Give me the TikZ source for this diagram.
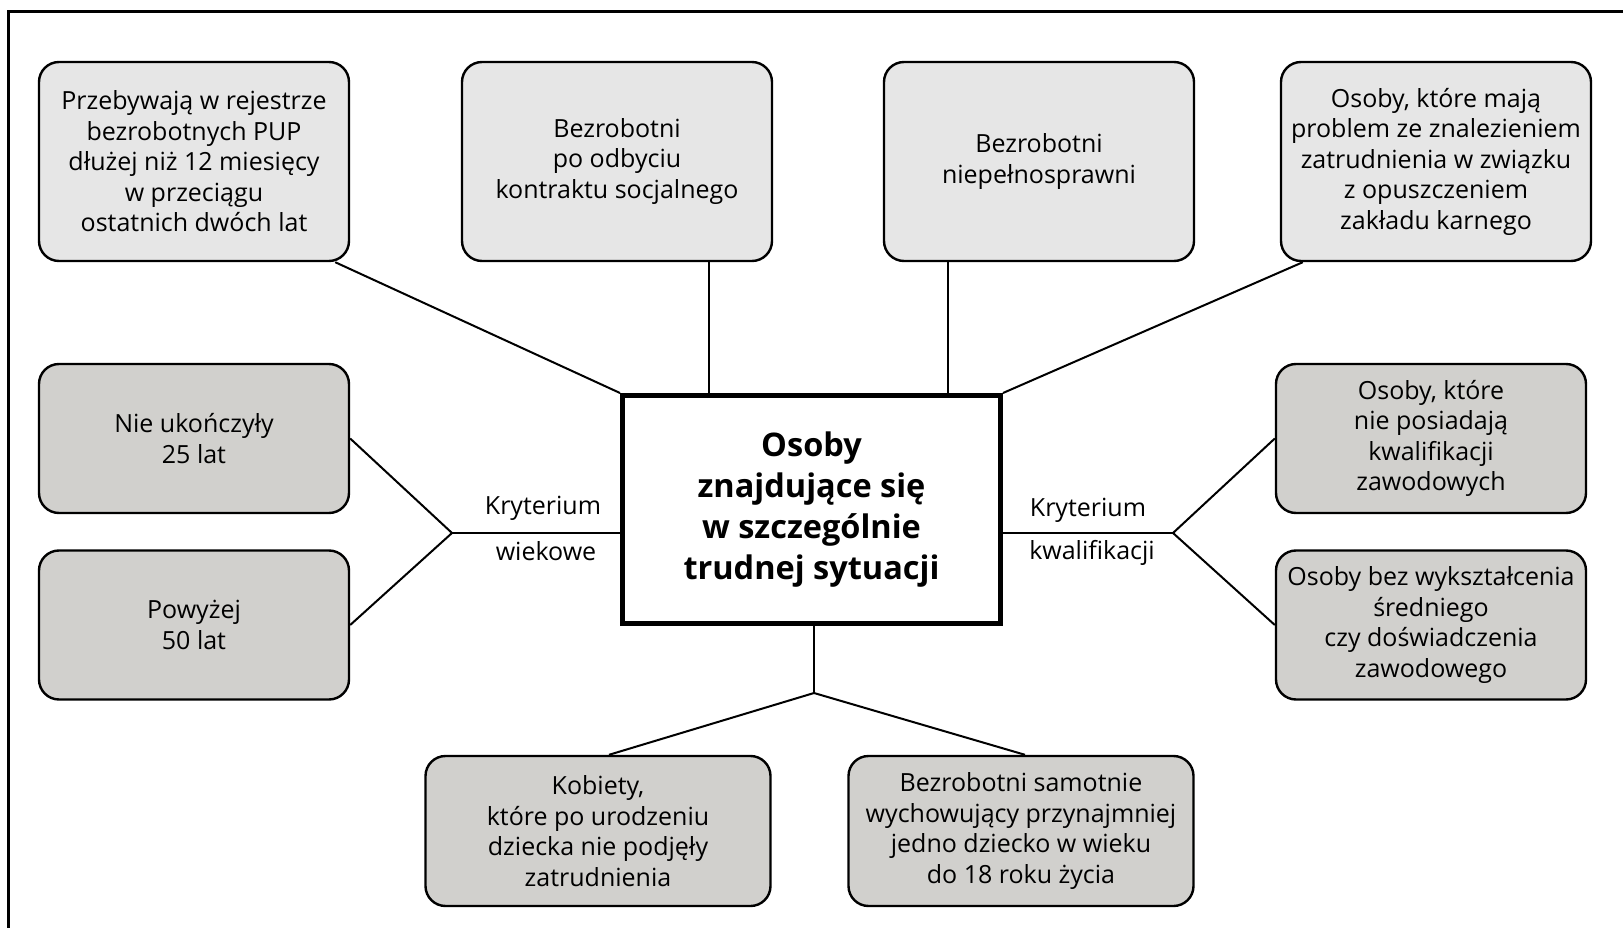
\documentclass[tikz,border=0pt]{standalone}
\usepackage{fontspec}
\setmainfont{Open Sans}
\usetikzlibrary{calc}
\definecolor{toplight}{HTML}{E6E6E6}
\definecolor{boxgray}{HTML}{D1D0CD}
\begin{document}
\begin{tikzpicture}[x=1pt,y=-1pt,
  boxbase/.style={draw=black,line width=2.4pt,rounded corners=20pt,align=center,inner sep=0pt,
     font=\fontsize{25}{30.5}\selectfont},
  topbox/.style={boxbase,fill=toplight,minimum width=310pt,minimum height=199pt},
  sidebox/.style={boxbase,fill=boxgray,minimum width=310pt,minimum height=149pt},
  botbox/.style={boxbase,fill=boxgray,minimum width=345pt,minimum height=150pt},
  mainbox/.style={draw=black,line width=5pt,fill=white,align=center,inner sep=0pt,
     minimum width=378pt,minimum height=228pt,font=\bfseries\fontsize{32.5}{41}\selectfont},
  conn/.style={line width=2pt,draw=black},
  lbl/.style={font=\fontsize{25}{28}\selectfont,inner sep=0pt}
]
\useasboundingbox (0,0) rectangle (1623,928);
\fill[white] (0,0) rectangle (1623,928);
% frame
\draw[line width=3pt] (8,940) -- (8,12) -- (1630,12);

% top row
\node[topbox] (b1) at (194,161.5) {Przebywają w rejestrze\\bezrobotnych PUP\\dłużej niż 12 miesięcy\\w przeciągu\\ostatnich dwóch lat};
\node[topbox] (b2) at (617,161.5) {Bezrobotni\\po odbyciu\\kontraktu socjalnego};
\node[topbox] (b3) at (1039,161.5) {Bezrobotni\\niepełnosprawni};
\node[topbox] (b4) at (1436,161.5) {Osoby, które mają\\problem ze znalezieniem\\zatrudnienia w związku\\z opuszczeniem\\zakładu karnego};

% sides
\node[sidebox] (l1) at (194,438.5) {Nie ukończyły\\25 lat};
\node[sidebox] (l2) at (194,625) {Powyżej\\50 lat};
\node[sidebox] (r1) at (1431,438.5) {Osoby, które\\nie posiadają\\kwalifikacji\\zawodowych};
\node[sidebox] (r2) at (1431,625) {Osoby bez wykształcenia\\średniego\\czy doświadczenia\\zawodowego};

% bottom
\node[botbox] (d1) at (598,831) {Kobiety,\\które po urodzeniu\\dziecka nie podjęły\\zatrudnienia};
\node[botbox] (d2) at (1021,831) {Bezrobotni samotnie\\wychowujący przynajmniej\\jedno dziecko w wieku\\do 18 roku życia};

% center
\node[mainbox] (c) at (811.5,509.5) {Osoby\\znajdujące się\\w szczególnie\\trudnej sytuacji};

% junctions
\coordinate (jl) at (452,533);
\coordinate (jr) at (1173,533);
\coordinate (jb) at (814,693);

% connectors top
\draw[conn] ([xshift=-15pt]b1.south east) -- (c.north west);
\draw[conn] ([xshift=92pt]b2.south) -- ([xshift=92pt]b2.south |- c.north);
\draw[conn] ([xshift=-91pt]b3.south) -- ([xshift=-91pt]b3.south |- c.north);
\draw[conn] ([xshift=23pt]b4.south west) -- (c.north east);

% left
\draw[conn] (c.west |- jl) -- (jl);
\draw[conn] (jl) -- (l1.east);
\draw[conn] (jl) -- (l2.east);
% right
\draw[conn] (c.east |- jr) -- (jr);
\draw[conn] (jr) -- (r1.west);
\draw[conn] (jr) -- (r2.west);
% bottom
\draw[conn] (c.south -| jb) -- (jb);
\draw[conn] (jb) -- ([xshift=11pt]d1.north);
\draw[conn] (jb) -- ([xshift=4pt]d2.north);

% labels
\node[lbl] (kl1) at (543,508) {Kryterium};
\node[lbl] (kl2) at (546,551) {wiekowe};
\node[lbl] (kr1) at (1088,510) {Kryterium};
\node[lbl] (kr2) at (1092,553) {kwalifikacji};
\end{tikzpicture}
\end{document}
